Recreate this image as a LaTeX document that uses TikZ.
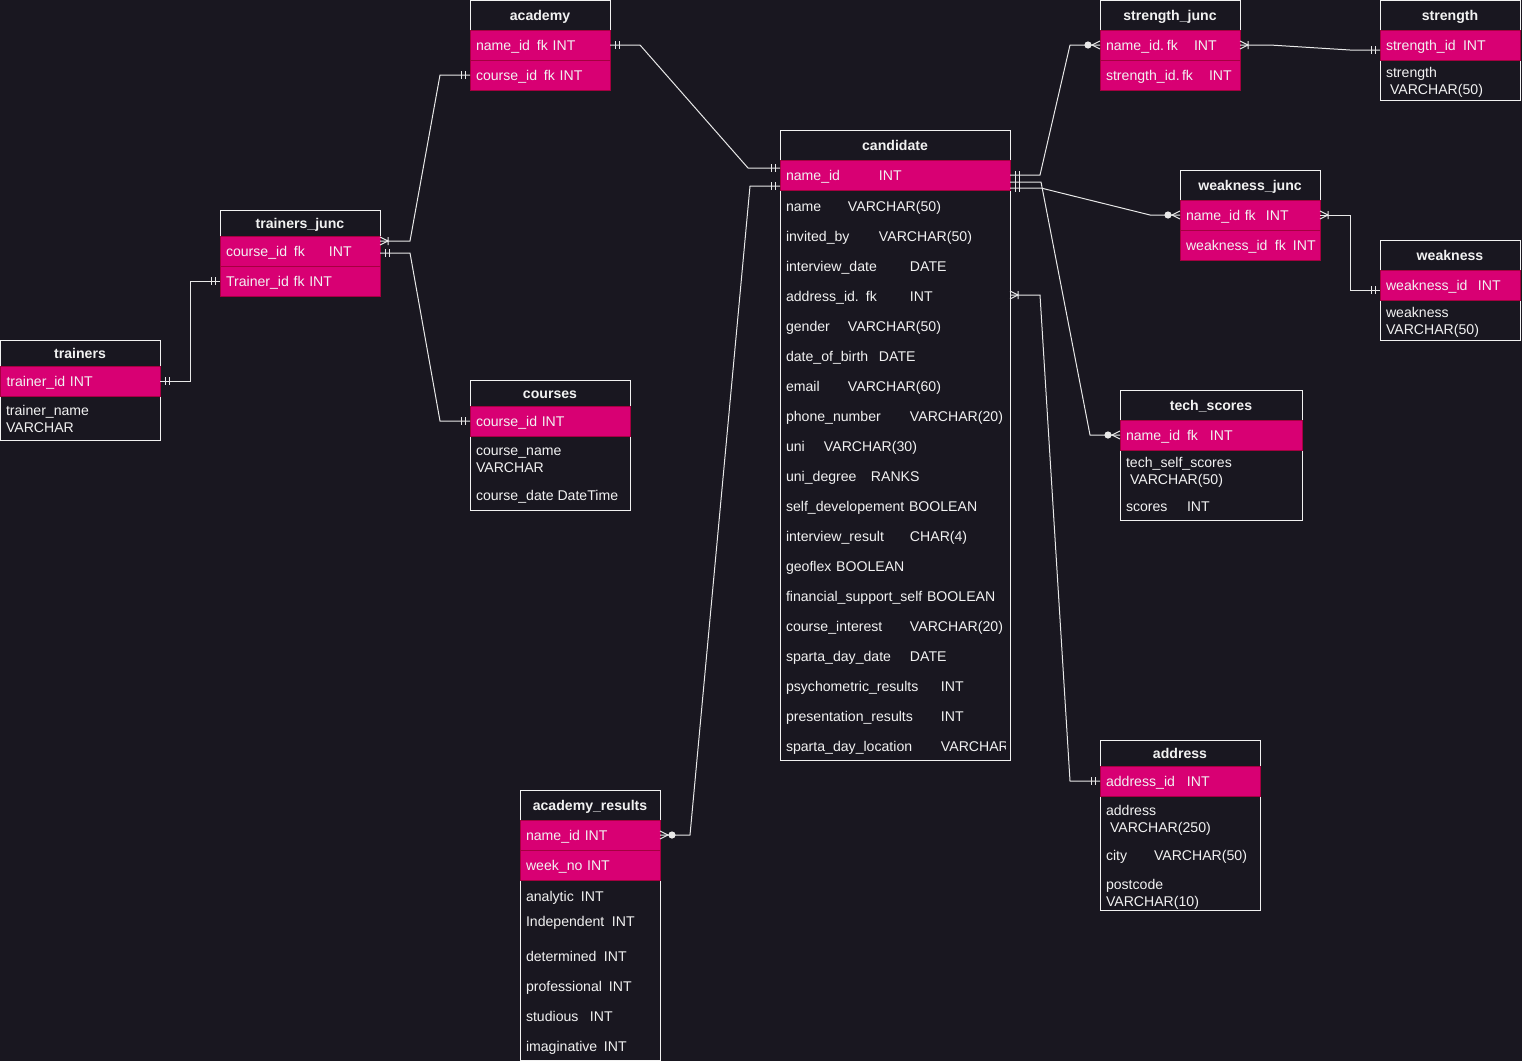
\documentclass[tikz,border=0pt]{standalone}
\usepackage{fontspec}
\setmainfont{Liberation Sans}
\usetikzlibrary{calc}
\definecolor{bg}{RGB}{25,23,32}
\definecolor{pinkfill}{RGB}{216,0,115}
\definecolor{pinkedge}{RGB}{165,0,64}
\definecolor{ink}{RGB}{242,242,242}
\definecolor{wire}{RGB}{232,232,232}
% left-aligned column of fixed width, used to line up field types
\newcommand\tb[2]{\makebox[#1pt][l]{#2}}

\begin{document}
\begin{tikzpicture}[x=1pt,y=-1pt,
  every node/.style={outer sep=0pt, font=\fontsize{14.1pt}{16.4pt}\selectfont, text=ink},
  frame/.style={draw=ink, fill=bg, line width=1pt, anchor=north west, inner sep=0pt},
  hdr/.style={anchor=base, font=\fontsize{14.1pt}{16.4pt}\selectfont\bfseries, inner sep=0pt},
  pk/.style={fill=pinkfill, draw=pinkedge, line width=1pt, anchor=north west,
    inner xsep=6pt, inner ysep=0pt, minimum height=30pt, text height=11.8pt,
    text depth=0pt, align=left, text width=#1},
  rowx/.style={anchor=north west, inner xsep=6pt, inner ysep=0pt, minimum height=30pt,
    text height=12pt, text depth=0pt, align=left, text width=#1},
  fld/.style={anchor=base west, inner sep=0pt, align=left},
  wire/.style={draw=wire, line width=1pt},
  er/.style={draw=wire, line width=1pt},
  pics/mone/.style={code={\draw[er] (#1*5,-4)--(#1*5,4) (#1*9,-4)--(#1*9,4);}},
  pics/omany/.style={code={\draw[er] (0,-4)--(#1*8,0)--(0,4) (#1*8,-4)--(#1*8,4);}},
  pics/zmany/.style={code={\draw[er] (0,-4)--(#1*8,0)--(0,4); \fill[fill=wire] (#1*12,0) circle[radius=3.6pt];}},
]
\useasboundingbox (0,0) rectangle (1522,1061);
\fill[bg] (0,0) rectangle (1522,1061);

% ---------- academy ----------
\node[frame, minimum width=140pt, minimum height=89.5pt] (academy) at (470,0.5) {};
\node[hdr] (academy-h) at (540,20) {academy};
\node[pk=128pt] (academy-r1) at (470,30) {\tb{61}{name\_id}fk INT};
\node[pk=128pt] (academy-r2) at (470,60) {\tb{68}{course\_id}fk INT};

% ---------- candidate ----------
\node[frame, minimum width=230pt, minimum height=630pt] (candidate) at (780,130) {};
\node[hdr] (candidate-h) at (895,150) {candidate};
\node[pk=218pt] (candidate-r1) at (780,160) {\tb{93}{name\_id}INT};
\node[rowx=218pt] (candidate-f1) at (780,190) {\tb{62}{name}VARCHAR(50)};
\node[rowx=218pt] (candidate-f2) at (780,220) {\tb{93}{invited\_by}VARCHAR(50)};
\node[rowx=218pt] (candidate-f3) at (780,250) {\tb{124}{interview\_date}DATE};
\node[rowx=218pt] (candidate-f4) at (780,280) {\tb{124}{address\_id. fk}INT};
\node[rowx=218pt] (candidate-f5) at (780,310) {\tb{62}{gender}VARCHAR(50)};
\node[rowx=218pt] (candidate-f6) at (780,340) {\tb{93}{date\_of\_birth}DATE};
\node[rowx=218pt] (candidate-f7) at (780,370) {\tb{62}{email}VARCHAR(60)};
\node[rowx=218pt] (candidate-f8) at (780,400) {\tb{124}{phone\_number}VARCHAR(20)};
\node[rowx=218pt] (candidate-f9) at (780,430) {\tb{38}{uni}VARCHAR(30)};
\node[rowx=218pt] (candidate-f10) at (780,460) {\tb{85}{uni\_degree}RANKS};
\node[rowx=218pt] (candidate-f11) at (780,490) {self\_developement BOOLEAN};
\node[rowx=218pt] (candidate-f12) at (780,520) {\tb{124}{interview\_result}CHAR(4)};
\node[rowx=218pt] (candidate-f13) at (780,550) {geoflex BOOLEAN};
\node[rowx=218pt] (candidate-f14) at (780,580) {financial\_support\_self BOOLEAN};
\node[rowx=218pt] (candidate-f15) at (780,610) {\tb{124}{course\_interest}VARCHAR(20)};
\node[rowx=218pt] (candidate-f16) at (780,640) {\tb{124}{sparta\_day\_date}DATE};
\node[rowx=218pt] (candidate-f17) at (780,670) {\tb{155}{psychometric\_results}INT};
\node[rowx=218pt] (candidate-f18) at (780,700) {\tb{155}{presentation\_results}INT};
\begin{scope}
  \clip (780,130) rectangle (1005,760);
  \node[rowx=218pt] (candidate-f19) at (780,730) {\mbox{\tb{155}{sparta\_day\_location}VARCHAR}};
\end{scope}

% ---------- strength_junc ----------
\node[frame, minimum width=140pt, minimum height=89.5pt] (sjunc) at (1100,0.5) {};
\node[hdr] (sjunc-h) at (1170,20) {strength\_junc};
\node[pk=128pt] (sjunc-r1) at (1100,30) {\tb{61}{name\_id.}\tb{27}{fk}INT};
\node[pk=128pt] (sjunc-r2) at (1100,60) {\tb{76}{strength\_id.}\tb{27}{fk}INT};

% ---------- strength ----------
\node[frame, minimum width=140pt, minimum height=99.5pt] (strength) at (1380,0.5) {};
\node[hdr] (strength-h) at (1450,20) {strength};
\node[pk=128pt] (strength-r1) at (1380,30) {\tb{77}{strength\_id}INT};
\node[fld] (strength-f1) at (1386,94) {strength\\\hspace*{4pt}VARCHAR(50)};

% ---------- weakness_junc ----------
\node[frame, minimum width=140pt, minimum height=90pt] (wjunc) at (1180,170) {};
\node[hdr] (wjunc-h) at (1250,190) {weakness\_junc};
\node[pk=128pt] (wjunc-r1) at (1180,200) {\tb{80}{name\_id fk}INT};
\node[pk=128pt] (wjunc-r2) at (1180,230) {\tb{89}{weakness\_id}\tb{18}{fk}INT};

% ---------- weakness ----------
\node[frame, minimum width=140pt, minimum height=100pt] (weakness) at (1380,240) {};
\node[hdr] (weakness-h) at (1450,260) {weakness};
\node[pk=128pt] (weakness-r1) at (1380,270) {\tb{92}{weakness\_id}INT};
\node[fld] (weakness-f1) at (1386,334) {weakness\\VARCHAR(50)};

% ---------- tech_scores ----------
\node[frame, minimum width=182pt, minimum height=130pt] (tech) at (1120,390) {};
\node[hdr] (tech-h) at (1211,410) {tech\_scores};
\node[pk=170pt] (tech-r1) at (1120,420) {\tb{61}{name\_id}\tb{23}{fk}INT};
\node[fld] (tech-f1) at (1126,484) {tech\_self\_scores\\\hspace*{4pt}VARCHAR(50)};
\node[fld] (tech-f2) at (1126,511) {\tb{61}{scores}INT};

% ---------- address ----------
\node[frame, minimum width=160pt, minimum height=170pt] (address) at (1100,740) {};
\node[hdr] (address-h) at (1180,758) {address};
\node[pk=148pt] (address-r1) at (1100,766) {\tb{81}{address\_id}INT};
\node[fld] (address-f1) at (1106,832) {address\\\hspace*{4pt}VARCHAR(250)};
\node[fld] (address-f2) at (1106,860) {\tb{48}{city}VARCHAR(50)};
\node[fld] (address-f3) at (1106,906) {postcode\\VARCHAR(10)};

% ---------- academy_results ----------
\node[frame, minimum width=140pt, minimum height=270pt] (acres) at (520,790) {};
\node[hdr] (acres-h) at (590,810) {academy\_results};
\node[pk=128pt] (acres-r1) at (520,820) {name\_id INT};
\node[pk=128pt] (acres-r2) at (520,850) {week\_no INT};
\node[fld] (acres-f1) at (526,901) {\tb{55}{analytic}INT};
\node[fld] (acres-f2) at (526,926) {\tb{86}{Independent}INT};
\node[fld] (acres-f3) at (526,961) {\tb{78}{determined}INT};
\node[fld] (acres-f4) at (526,991) {\tb{83}{professional}INT};
\node[fld] (acres-f5) at (526,1021) {\tb{64}{studious}INT};
\node[fld] (acres-f6) at (526,1051) {\tb{78}{imaginative}INT};

% ---------- trainers_junc ----------
\node[frame, minimum width=160pt, minimum height=86pt] (tjunc) at (220,210) {};
\node[hdr] (tjunc-h) at (300,228) {trainers\_junc};
\node[pk=148pt] (tjunc-r1) at (220,236) {\tb{68}{course\_id}\tb{35}{fk}INT};
\node[pk=148pt] (tjunc-r2) at (220,266) {Trainer\_id fk INT};

% ---------- trainers ----------
\node[frame, minimum width=159.5pt, minimum height=100pt] (trainers) at (0.5,340) {};
\node[hdr] (trainers-h) at (80,358) {trainers};
\node[pk=147.5pt] (trainers-r1) at (0.5,366) {trainer\_id INT};
\node[fld] (trainers-f1) at (6,432) {trainer\_name\\VARCHAR};

% ---------- courses ----------
\node[frame, minimum width=160pt, minimum height=130pt] (courses) at (470,380) {};
\node[hdr] (courses-h) at (550,398) {courses};
\node[pk=148pt] (courses-r1) at (470,406) {course\_id INT};
\node[fld] (courses-f1) at (476,472) {course\_name\\VARCHAR};
\node[fld] (courses-f2) at (476,500) {course\_date DateTime};

% ---------- relations ----------
% academy -- candidate
\draw[wire] (academy-r1.east) -- ++(30,0) -- ([xshift=-32pt,yshift=7pt]candidate-r1.west) -- ([yshift=7pt]candidate-r1.west);
\pic at (academy-r1.east) {mone=1};
\pic at ([yshift=7pt]candidate-r1.west) {mone=-1};

% trainers_junc -- academy
\draw[wire] ([yshift=10pt]tjunc-r1.east) -- ++(30,0) -- ([xshift=-30pt]academy-r2.west) -- (academy-r2.west);
\pic at ([yshift=10pt]tjunc-r1.east) {omany=1};
\pic at (academy-r2.west) {mone=-1};

% trainers_junc -- courses
\draw[wire] ([yshift=-2pt]tjunc-r1.east) -- ++(30,0) -- ([xshift=-30pt]courses-r1.west) -- (courses-r1.west);
\pic at ([yshift=-2pt]tjunc-r1.east) {mone=1};
\pic at (courses-r1.west) {mone=-1};

% trainers -- trainers_junc
\draw[wire] (trainers-r1.east) -- ++(30,0) |- (tjunc-r2.west);
\pic at (trainers-r1.east) {mone=1};
\pic at (tjunc-r2.west) {mone=-1};

% candidate -- academy_results
\draw[wire] ([yshift=-11pt]candidate-r1.west) -- ++(-30,0) -- ([xshift=30pt]acres-r1.east) -- (acres-r1.east);
\pic at ([yshift=-11pt]candidate-r1.west) {mone=-1};
\pic at (acres-r1.east) {zmany=1};

% candidate -- strength_junc
\draw[wire] (candidate-r1.east) -- ++(30,0) -- ([xshift=-30pt]sjunc-r1.west) -- (sjunc-r1.west);
\pic at (candidate-r1.east) {mone=1};
\pic at (sjunc-r1.west) {zmany=-1};

% candidate -- tech_scores
\draw[wire] ([yshift=-7pt]candidate-r1.east) -- ++(31,0) -- ([xshift=-30pt]tech-r1.west) -- (tech-r1.west);
\pic at ([yshift=-7pt]candidate-r1.east) {mone=1};
\pic at (tech-r1.west) {zmany=-1};

% candidate -- weakness_junc
\draw[wire] ([yshift=-13pt]candidate-r1.east) -- ++(31,0) -- ([xshift=-30pt]wjunc-r1.west) -- (wjunc-r1.west);
\pic at ([yshift=-13pt]candidate-r1.east) {mone=1};
\pic at (wjunc-r1.west) {zmany=-1};

% candidate -- address
\draw[wire] (candidate-f4.east) -- ++(30,0) -- ([xshift=-30pt]address-r1.west) -- (address-r1.west);
\pic at (candidate-f4.east) {omany=1};
\pic at (address-r1.west) {mone=-1};

% strength_junc -- strength
\draw[wire] (sjunc-r1.east) -- ++(30,0) -- ([xshift=-30pt,yshift=-5pt]strength-r1.west) -- ([yshift=-5pt]strength-r1.west);
\pic at (sjunc-r1.east) {omany=1};
\pic at ([yshift=-5pt]strength-r1.west) {mone=-1};

% weakness_junc -- weakness
\draw[wire] (wjunc-r1.east) -- ++(30,0) |- ([yshift=-5pt]weakness-r1.west);
\pic at (wjunc-r1.east) {omany=1};
\pic at ([yshift=-5pt]weakness-r1.west) {mone=-1};
\end{tikzpicture}
\end{document}
